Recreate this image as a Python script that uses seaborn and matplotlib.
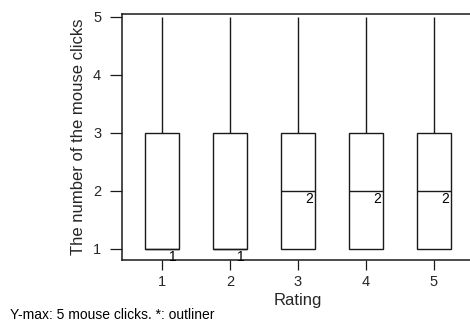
import numpy as np
import pandas as pd
import seaborn as sns
import matplotlib.pyplot as plt

# summary values
ratings = ["1", "2", "3", "4", "5"]
mins = [1, 1, 1, 1, 1]
q1s = [1, 1, 1, 1, 1]
medians = [1, 1, 2, 2, 2]
q3s = [3, 3, 3, 3, 3]
maxs = [5, 5, 5, 5, 5]

# five-number table per rating, boxplot quartiles reproduce it exactly
rows = []
for r, a, b, c, d, e in zip(ratings, mins, q1s, medians, q3s, maxs):
    for v in (a, b, c, d, e):
        rows.append({"Rating": r, "clicks": v})
df = pd.DataFrame(rows)

sns.set_theme(style="ticks")
plt.rcParams['font.family'] = ['Liberation Sans', 'DejaVu Sans']

fig = plt.figure(figsize=(4.7, 3.22), dpi=100)
ax = fig.add_axes([122 / 470, 1 - 260 / 322, 352 / 470, 246 / 322])

sns.boxplot(data=df, x="Rating", y="clicks", order=ratings, ax=ax,
            color="white", linecolor="#1a1a1a", linewidth=1.0, width=0.51,
            whis=np.inf, showcaps=False, saturation=1)

# median labels
for i, m in enumerate(medians):
    ax.text(i + 0.16, m - 0.02, str(m), ha="center", va="top", fontsize=10, color="black")

ax.set_xlim(-0.588, 4.588)
ax.set_ylim(0.81, 5.05)
ax.set_yticks([1, 2, 3, 4, 5])
ax.set_yticklabels(["1", "2", "3", "4", "5"])
ax.tick_params(axis="y", length=8.5, width=0.9, pad=6.5, labelsize=10.5, color="#1a1a1a")
ax.tick_params(axis="x", length=7, width=0.9, pad=4, labelsize=10.5, color="#1a1a1a")
for s in ["left", "top", "bottom"]:
    ax.spines[s].set_linewidth(1.1)
    ax.spines[s].set_color("#1a1a1a")
ax.spines["right"].set_visible(False)

ax.set_ylabel("The number of the mouse clicks", fontsize=12, labelpad=5)
ax.set_xlabel("Rating", fontsize=12, labelpad=3)

fig.text(10 / 470, 1 - 315 / 322, "Y-max: 5 mouse clicks. *: outliner", fontsize=10, va="center", color="black")

fig.savefig("out.png", dpi=100)
